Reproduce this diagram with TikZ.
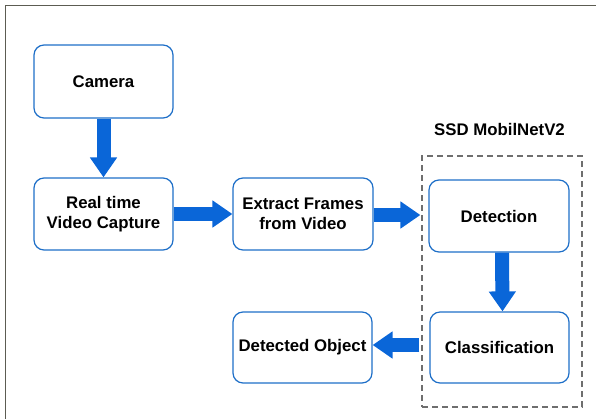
\documentclass[tikz,border=0pt]{standalone}
\usepackage{fontspec}
\setmainfont{Liberation Sans}
\usetikzlibrary{arrows.meta,calc}
\definecolor{boxblue}{HTML}{1E6FC8}
\definecolor{arrblue}{HTML}{0A66D8}
\definecolor{framegray}{HTML}{5C5C52}
\definecolor{dashgray}{HTML}{6E6E6E}
\tikzset{
  stepbox/.style={draw=boxblue, line width=1.2pt, rounded corners=10pt, fill=white,
    minimum width=139pt, minimum height=72pt, align=center, inner sep=0pt,
    font=\fontsize{16.8}{20}\selectfont\bfseries},
  blockarrow/.style={draw=arrblue, line width=14pt,
    -{Triangle[width=26pt,length=20pt]}},
  grouplabel/.style={font=\fontsize{16.8}{20}\selectfont\bfseries, inner sep=0pt}
}
\begin{document}
\begin{tikzpicture}[x=1pt,y=-1pt]
\useasboundingbox (0,0) rectangle (596,418);
% outer frame
\draw[framegray, line width=1.5pt] (5.5,420) -- (5.5,5.5) -- (600,5.5);
% group box
\node[draw=dashgray, dashed, line width=1.2pt, dash pattern=on 6pt off 4pt,
      minimum width=160pt, minimum height=251pt, inner sep=0pt] (ssd) at (502,281.5) {};
\node[grouplabel] (ssdlabel) at (499.5,129.5) {SSD MobilNetV2};
% boxes
\node[stepbox, minimum height=73pt] (camera) at (103.5,81.5) {Camera};
\node[stepbox] (capture) at (103.5,214) {Real time\\Video Capture};
\node[stepbox, minimum width=140pt] (extract) at (303,214) {Extract Frames\\from Video};
\node[stepbox, minimum width=140pt] (detection) at (499,216) {Detection};
\node[stepbox, minimum height=71pt] (classif) at (499.5,347.5) {Classification};
\node[stepbox, minimum height=71pt] (detected) at (302.5,347.5) {Detected Object};
% arrows
\draw[blockarrow] (camera.south) -- (capture.north);
\draw[blockarrow] (capture.east) -- (extract.west);
\draw[blockarrow] (extract.east |- 0,215) -- ($(ssd.west |- 0,215)+(-1,0)$);
\draw[blockarrow] ($(detection.south)+(3,0)$) -- ($(classif.north)+(3,0)$);
\draw[blockarrow] ($(ssd.west |- 0,345)+(-2,0)$) -- (detected.east |- 0,345);
\end{tikzpicture}
\end{document}
